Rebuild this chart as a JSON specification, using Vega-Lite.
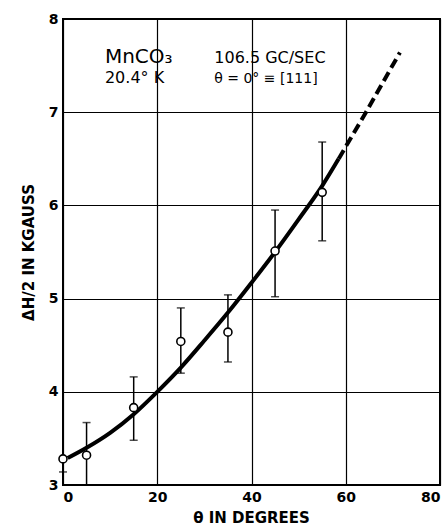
{
  "$schema": "https://vega.github.io/schema/vega-lite/v6.json",
  "width": 377,
  "height": 466,
  "autosize": {"type": "none"},
  "padding": {"left": 63, "top": 19, "right": 8, "bottom": 42},
  "background": "white",
  "config": {
    "view": {"stroke": "black", "strokeWidth": 2},
    "font": "DejaVu Sans"
  },
  "datasets": {
    "points": [
      {"theta": 0, "dh": 3.28, "lo": 3.14, "hi": 3.3},
      {"theta": 5, "dh": 3.32, "lo": 3.0, "hi": 3.67},
      {"theta": 15, "dh": 3.83, "lo": 3.48, "hi": 4.16},
      {"theta": 25, "dh": 4.54, "lo": 4.2, "hi": 4.9},
      {"theta": 35, "dh": 4.64, "lo": 4.32, "hi": 5.04},
      {"theta": 45, "dh": 5.51, "lo": 5.02, "hi": 5.95},
      {"theta": 55, "dh": 6.14, "lo": 5.62, "hi": 6.68}
    ],
    "solid": [
      {"theta": 1, "dh": 3.29},
      {"theta": 5, "dh": 3.4},
      {"theta": 10, "dh": 3.56},
      {"theta": 15, "dh": 3.76},
      {"theta": 20, "dh": 4.0},
      {"theta": 25, "dh": 4.26},
      {"theta": 30, "dh": 4.55},
      {"theta": 35, "dh": 4.85},
      {"theta": 40, "dh": 5.17},
      {"theta": 45, "dh": 5.5},
      {"theta": 50, "dh": 5.85},
      {"theta": 55, "dh": 6.21},
      {"theta": 58.5, "dh": 6.5}
    ],
    "dashed": [
      {"theta": 58.5, "dh": 6.5},
      {"theta": 60, "dh": 6.63},
      {"theta": 64.3, "dh": 7.0},
      {"theta": 68, "dh": 7.33},
      {"theta": 71.5, "dh": 7.64}
    ],
    "bigtext": [
      {"theta": 8.9, "dh": 7.53, "label": "MnCO₃"}
    ],
    "smalltext": [
      {"theta": 8.9, "dh": 7.31, "label": "20.4° K", "size": 16},
      {"theta": 32.1, "dh": 7.53, "label": "106.5 GC/SEC", "size": 16},
      {"theta": 32.1, "dh": 7.31, "label": "θ = 0° ≡ [111]", "size": 14}
    ]
  },
  "layer": [
    {
      "data": {"name": "solid"},
      "mark": {"type": "line", "color": "black", "strokeWidth": 4, "interpolate": "monotone"},
      "encoding": {
        "x": {
          "field": "theta",
          "type": "quantitative",
          "scale": {"domain": [0, 80], "nice": false},
          "axis": {
            "values": [0, 20, 40, 60, 80],
            "format": "d",
            "grid": true,
            "gridColor": "black",
            "gridWidth": 1.2,
            "gridOpacity": 1,
            "domain": false,
            "ticks": false,
            "labelFont": "DejaVu Sans",
            "labelFontSize": 14,
            "labelFontWeight": "bold",
            "labelColor": "black",
            "labelPadding": 5,
            "title": "θ IN DEGREES",
            "titleFont": "DejaVu Sans",
            "titleFontSize": 15,
            "titleFontWeight": "bold",
            "titleColor": "black",
            "titleBaseline": "alphabetic",
            "titleX": 188,
            "titleY": 37
          }
        },
        "y": {
          "field": "dh",
          "type": "quantitative",
          "scale": {"domain": [3, 8], "nice": false, "zero": false},
          "axis": {
            "values": [3, 4, 5, 6, 7, 8],
            "format": "d",
            "grid": true,
            "gridColor": "black",
            "gridWidth": 1.2,
            "gridOpacity": 1,
            "domain": false,
            "ticks": false,
            "labelFont": "DejaVu Sans",
            "labelFontSize": 14,
            "labelFontWeight": "bold",
            "labelColor": "black",
            "labelPadding": 5,
            "title": "ΔH/2  IN KGAUSS",
            "titleFont": "DejaVu Sans",
            "titleFontSize": 15,
            "titleFontWeight": "bold",
            "titleColor": "black",
            "titleAngle": -90,
            "titleBaseline": "middle",
            "titleAlign": "center",
            "titleX": -35,
            "titleY": 233
          }
        }
      }
    },
    {
      "data": {"name": "dashed"},
      "mark": {"type": "line", "color": "black", "strokeWidth": 4, "strokeDash": [10, 5], "interpolate": "monotone"},
      "encoding": {
        "x": {"field": "theta", "type": "quantitative"},
        "y": {"field": "dh", "type": "quantitative"}
      }
    },
    {
      "data": {"name": "points"},
      "mark": {"type": "errorbar", "ticks": {"size": 8}, "thickness": 1.5, "color": "black"},
      "encoding": {
        "x": {"field": "theta", "type": "quantitative"},
        "y": {"field": "lo", "type": "quantitative", "title": "ΔH/2  IN KGAUSS"},
        "y2": {"field": "hi"}
      }
    },
    {
      "data": {"name": "points"},
      "mark": {"type": "point", "shape": "circle", "filled": true, "fill": "white", "stroke": "black", "strokeWidth": 1.6, "size": 64, "opacity": 1},
      "encoding": {
        "x": {"field": "theta", "type": "quantitative"},
        "y": {"field": "dh", "type": "quantitative"}
      }
    },
    {
      "data": {"name": "bigtext"},
      "mark": {"type": "text", "align": "left", "baseline": "alphabetic", "fontSize": 20, "font": "DejaVu Sans", "color": "black"},
      "encoding": {
        "x": {"field": "theta", "type": "quantitative"},
        "y": {"field": "dh", "type": "quantitative"},
        "text": {"field": "label"}
      }
    },
    {
      "data": {"name": "smalltext"},
      "mark": {"type": "text", "align": "left", "baseline": "alphabetic", "font": "DejaVu Sans", "color": "black"},
      "encoding": {
        "x": {"field": "theta", "type": "quantitative"},
        "y": {"field": "dh", "type": "quantitative"},
        "text": {"field": "label"},
        "size": {"field": "size", "type": "quantitative", "scale": null, "legend": null}
      }
    }
  ]
}
